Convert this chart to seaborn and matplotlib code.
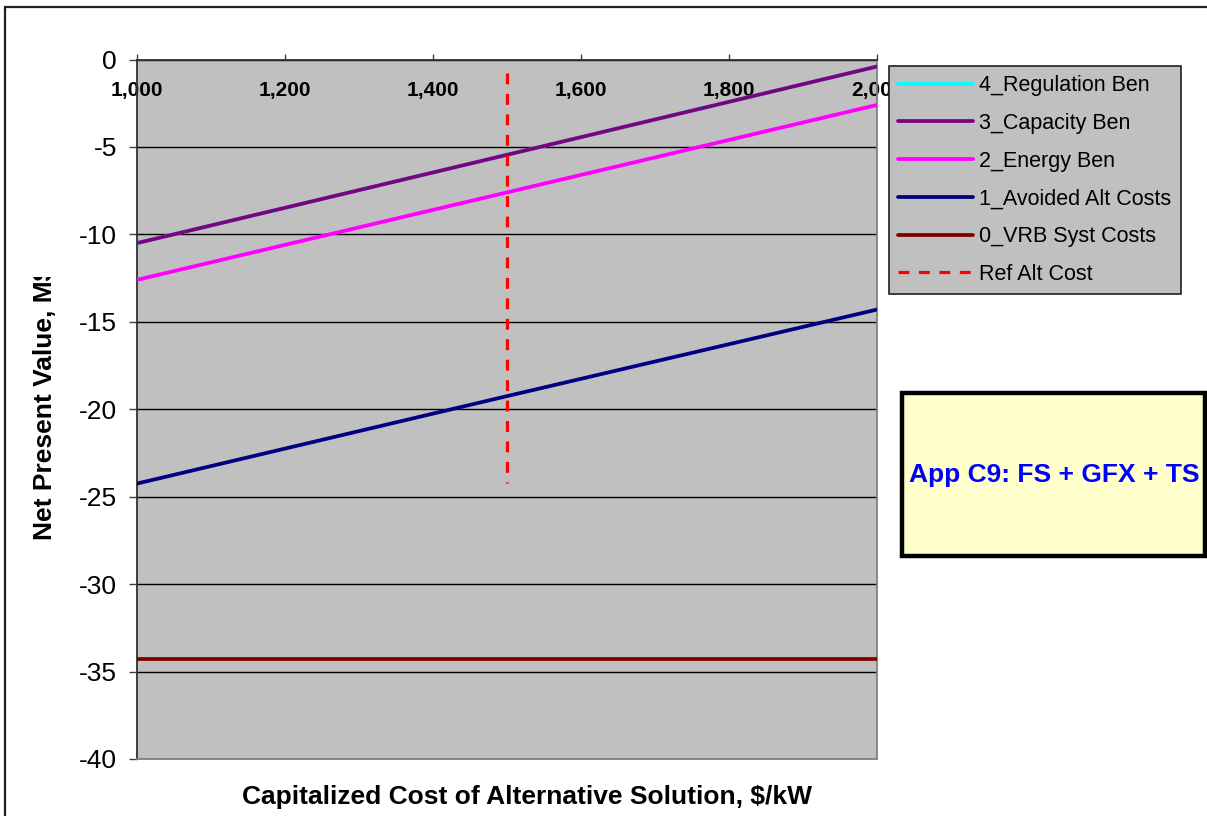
import numpy as np
import pandas as pd
import seaborn as sns
import matplotlib
matplotlib.use("Agg")
import matplotlib.pyplot as plt
from matplotlib.patches import Rectangle
from matplotlib.lines import Line2D
from matplotlib.transforms import Bbox
from matplotlib.ticker import FuncFormatter

# Capitalized cost of the alternative solution ($/kW)
alt_cost = [1000, 1500, 2000]

# Net present value by stacked benefit level (M$)
regulation_ben = [-10.5, -5.45, -0.4]
capacity_ben = [-10.5, -5.45, -0.4]
energy_ben = [-12.6, -7.6, -2.6]
avoided_alt_costs = [-24.25, -19.25, -14.3]
vrb_syst_costs = [-34.3, -34.3, -34.3]

# Reference alternative cost marker
ref_x = [1500, 1500]
ref_y = [-0.75, -24.2]

series_names = ["4_Regulation Ben", "3_Capacity Ben", "2_Energy Ben",
                "1_Avoided Alt Costs", "0_VRB Syst Costs"]
series_values = [regulation_ben, capacity_ben, energy_ben,
                 avoided_alt_costs, vrb_syst_costs]
series_colors = ["#00FFFF", "#800080", "#FF00FF", "#000080", "#800000"]

x_ticks = [1000, 1200, 1400, 1600, 1800, 2000]
y_ticks = [0, -5, -10, -15, -20, -25, -30, -35, -40]

df = pd.DataFrame({
    "cost": np.tile(alt_cost, len(series_names)),
    "npv": np.concatenate(series_values),
    "series": np.repeat(series_names, len(alt_cost)),
})
ref_df = pd.DataFrame({"cost": ref_x, "npv": ref_y})

sns.set_theme(style="white")
plt.rcParams["font.family"] = ["Liberation Sans", "DejaVu Sans"]
plt.rcParams["text.color"] = "black"
plt.rcParams["axes.labelcolor"] = "black"
plt.rcParams["xtick.color"] = "black"
plt.rcParams["ytick.color"] = "black"

W, H = 1207, 816
fig = plt.figure(figsize=(W / 100, H / 100), dpi=100)
fig.patch.set_facecolor("white")

def fx(px):
    return px / W

def fy(py):
    return 1 - py / H

ax = fig.add_axes([fx(137), fy(759), fx(877) - fx(137), fy(59.5) - fy(759)])
ax.set_facecolor("#C0C0C0")

lw = 2.7
ref_lw = 2.3
ref_dashes = [3.4, 3.0]
sns.lineplot(data=df, x="cost", y="npv", hue="series", hue_order=series_names,
             palette=dict(zip(series_names, series_colors)), linewidth=lw,
             ax=ax, legend=False, zorder=3, estimator=None)
sns.lineplot(data=ref_df, x="cost", y="npv", color="#FF0000", linewidth=ref_lw,
             ax=ax, legend=False, zorder=4, sort=False, estimator=None)
ax.lines[-1].set_dashes(ref_dashes)

ax.set_xlim(1000, 2000)
ax.set_ylim(-40, 0)
ax.set_yticks(y_ticks)
ax.set_xticks(x_ticks)
ax.xaxis.set_major_formatter(FuncFormatter(lambda v, p: f"{int(v):,}"))
ax.yaxis.set_major_formatter(FuncFormatter(lambda v, p: f"{int(v)}"))
ax.grid(axis="y", color="black", linewidth=1.0, zorder=1)
ax.grid(axis="x", visible=False)
ax.set_axisbelow(True)

ax.tick_params(axis="y", direction="out", left=True, length=6, width=1,
               color="#404040", labelsize=19, pad=8.5, labelcolor="black")
ax.xaxis.tick_top()
ax.tick_params(axis="x", direction="out", top=True, bottom=False, length=4,
               width=1, color="#404040", labeltop=True, labelbottom=False,
               labelsize=15, pad=-33, labelcolor="black")
for t in ax.get_xticklabels():
    t.set_fontweight("bold")

for side in ["left", "top"]:
    ax.spines[side].set_color("#303030")
    ax.spines[side].set_linewidth(1.3)
for side in ["right", "bottom"]:
    ax.spines[side].set_color("#808080")
    ax.spines[side].set_linewidth(1.3)
ax.set_xlabel("")
ax.set_ylabel("")

# Axis titles
fig.text(fx(527), fy(797), "Capitalized Cost of Alternative Solution, $/kW",
         ha="center", va="center", fontsize=19, fontweight="bold")
ylab = fig.text(fx(45), fy(540), "Net Present Value, M$", rotation=90,
                ha="center", va="bottom", fontsize=19, fontweight="bold")
ylab.set_clip_box(Bbox.from_extents(0, 0, 200, H - 277))
ylab.set_clip_on(True)

# Legend
handles = [Line2D([], [], color=c, linewidth=lw) for c in series_colors]
handles.append(Line2D([], [], color="#FF0000", linewidth=ref_lw, dashes=ref_dashes))
labels = series_names + ["Ref Alt Cost"]
leg = fig.legend(handles, labels, loc="upper left",
                 bbox_to_anchor=(fx(889), fy(293), fx(1181) - fx(889), fy(66) - fy(293)),
                 mode="expand", fontsize=15.5, frameon=True, fancybox=False,
                 handlelength=3.5, handletextpad=0.25, labelspacing=0.78,
                 borderpad=0.42, borderaxespad=0)
leg.get_frame().set_facecolor("#C0C0C0")
leg.get_frame().set_edgecolor("#202020")
leg.get_frame().set_linewidth(1.2)
leg.get_frame().set_alpha(1)

# Application label box
fig.patches.append(Rectangle((fx(902), fy(556)), fx(1205) - fx(902), fy(393) - fy(556),
                             transform=fig.transFigure, facecolor="#FFFFCC",
                             edgecolor="black", linewidth=3.2, zorder=5))
fig.text(fx(1054), fy(475), "App C9: FS + GFX + TS", ha="center", va="center",
         fontsize=19, fontweight="bold", color="#0000FF", zorder=6)

# Outer frame around the chart
fig.patches.append(Rectangle((fx(5), fy(830)), fx(1230) - fx(5), fy(7) - fy(830),
                             transform=fig.transFigure, facecolor="none",
                             edgecolor="#202020", linewidth=1.6, zorder=0))

fig.savefig("out.png", dpi=100)
